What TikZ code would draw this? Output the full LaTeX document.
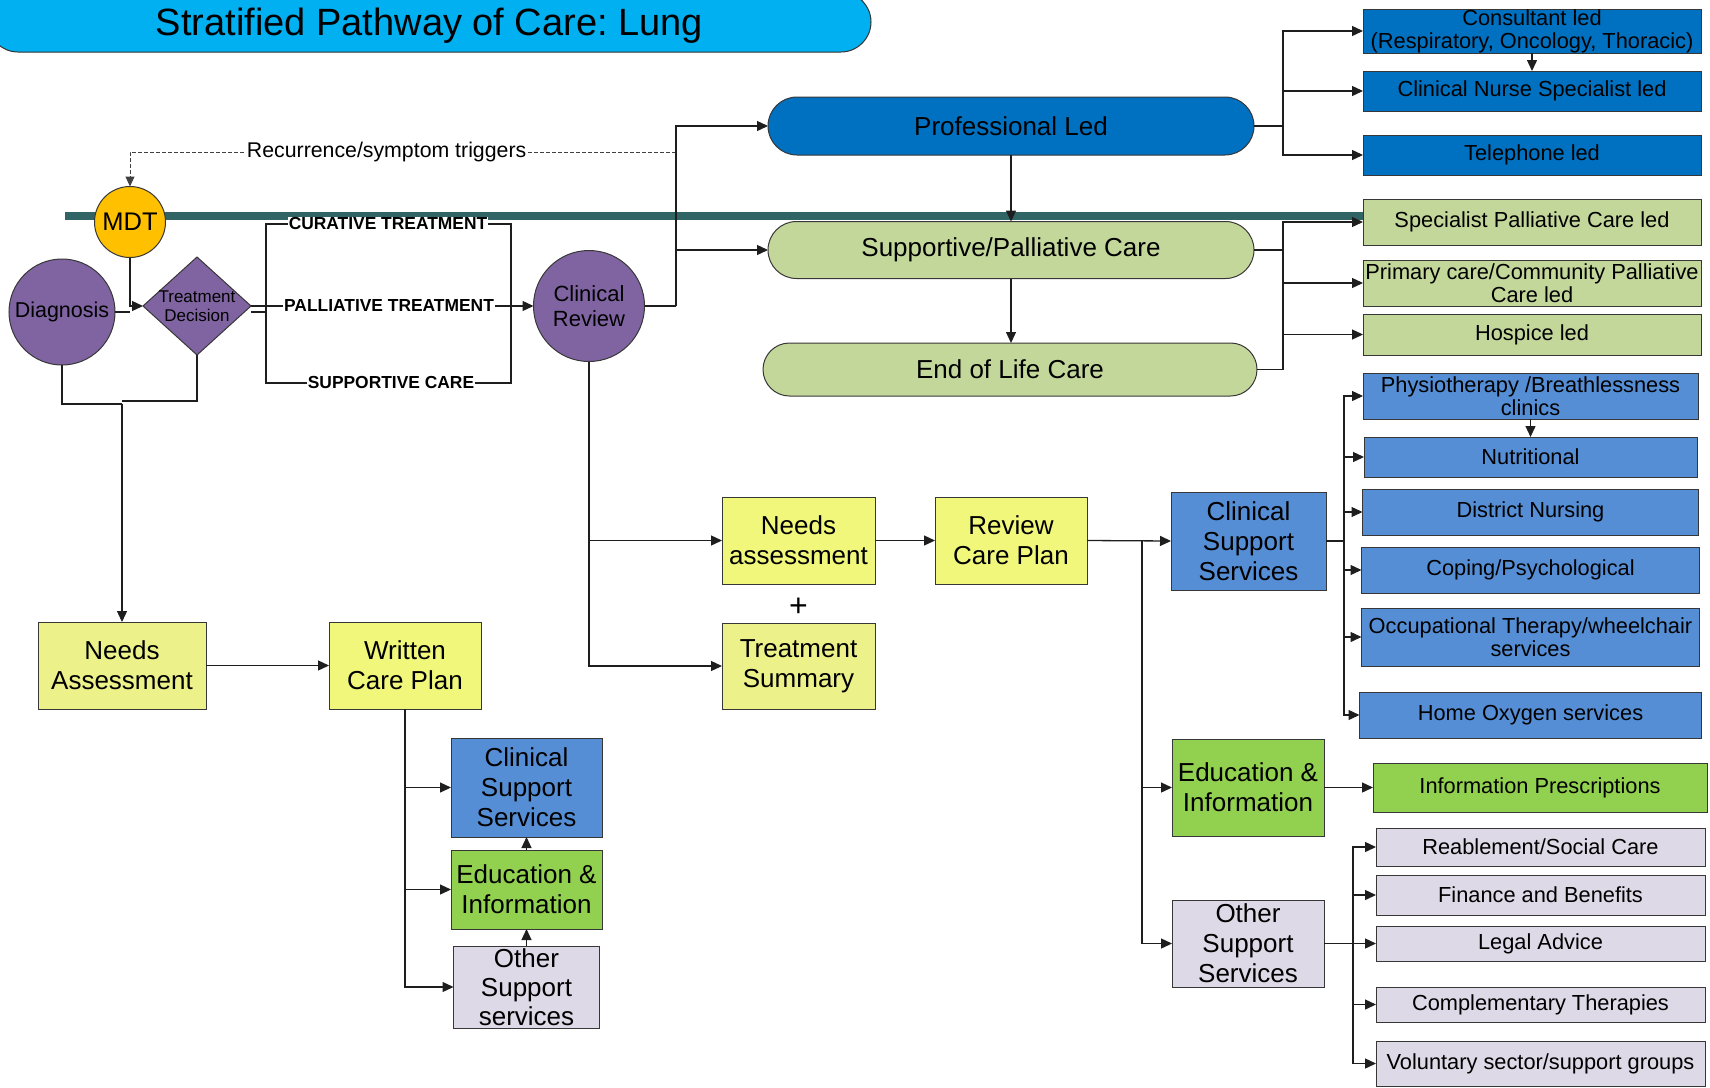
\documentclass[tikz,border=0pt]{standalone}
\usepackage{fontspec}
\setmainfont{Liberation Sans}
\usetikzlibrary{shapes.geometric, shapes.misc, positioning, arrows.meta, calc}
\definecolor{TitleCyan}{RGB}{0, 176, 240}
\definecolor{BarTeal}{RGB}{49, 101, 101}
\definecolor{MdtGold}{RGB}{255, 192, 0}
\definecolor{StagePurple}{RGB}{128, 100, 162}
\definecolor{ProBlue}{RGB}{0, 112, 192}
\definecolor{PallGreen}{RGB}{196, 215, 155}
\definecolor{PlanYellow}{RGB}{240, 247, 122}
\definecolor{SummaryYellow}{RGB}{236, 241, 138}
\definecolor{ClinBlue}{RGB}{85, 142, 213}
\definecolor{EduGreen}{RGB}{146, 208, 80}
\definecolor{OtherLilac}{RGB}{221, 217, 230}
\definecolor{EdgeColor}{RGB}{55, 55, 55}
\definecolor{LineColor}{RGB}{30, 30, 30}
\tikzset{
    base/.style={
        draw=EdgeColor,
        line width=1pt,
        align=center,
        inner sep=0pt,
        outer sep=0pt,
        text=black
    },
    bigbox/.style={base, rectangle, font=\fontsize{26}{30}\selectfont},
    smallbox/.style={base, rectangle, font=\fontsize{21.8}{23}\selectfont, minimum width=338pt},
    pill/.style={base, rounded rectangle, font=\fontsize{26}{30}\selectfont},
    bubble/.style={base, circle},
    titlebar/.style={base, rounded rectangle, fill=TitleCyan, draw=black!80,
        font=\fontsize{38}{40}\selectfont, text depth=0pt},
    optlabel/.style={fill=white, inner sep=1pt, font=\bfseries\fontsize{17.4}{19}\selectfont}
}

\begin{document}
\frenchspacing
\begin{tikzpicture}[x=1pt, y=-1pt]
    \useasboundingbox (0,0) rectangle (1710,1087);

    % ============================================================================
    % HEADER
    % ============================================================================

    \node[titlebar, minimum width=883pt, minimum height=60pt] (Title) at (429.5,22) {Stratified Pathway of Care: Lung};

    % divider between the two bands
    \draw[line width=8pt, BarTeal] (65,216) -- (1363,216);

    % ============================================================================
    % DIAGNOSIS AND DECISION
    % ============================================================================

    \node[bubble, fill=MdtGold, minimum size=71pt, font=\fontsize{25.5}{27}\selectfont] (MDT) at (130,222) {MDT};
    \node[bubble, fill=StagePurple, minimum size=106pt, font=\fontsize{21.5}{23}\selectfont] (Diagnosis) at (62,312) {Diagnosis};
    \node[base, diamond, fill=StagePurple, minimum width=108pt, minimum height=98pt,
        label={[align=center, font=\fontsize{17}{19.5}\selectfont]center:Treatment\\Decision}] (Decision) at (197,306) {};
    \node[bubble, fill=StagePurple, minimum size=111pt, font=\fontsize{22}{24.5}\selectfont] (Review) at (589,306) {Clinical\\Review};

    % Treatment options
    \node[optlabel] (OptCurative) at (388,224) {CURATIVE TREATMENT};
    \node[optlabel] (OptPalliative) at (389,306) {PALLIATIVE TREATMENT};
    \node[optlabel] (OptSupportive) at (391,383) {SUPPORTIVE CARE};

    % ============================================================================
    % FOLLOW-UP ROUTES
    % ============================================================================

    \node[pill, fill=ProBlue, minimum width=486pt, minimum height=58pt] (Professional) at (1011,126) {Professional Led};
    \node[pill, fill=PallGreen, minimum width=486pt, minimum height=57pt] (SupportCare) at (1011,250) {Supportive/Palliative Care};
    \node[pill, fill=PallGreen, minimum width=494pt, minimum height=53pt] (EndLife) at (1010,369.5) {End of Life Care};

    % Professional led options
    \node[smallbox, fill=ProBlue, minimum height=44pt] (Consultant) at (1532,31) {Consultant led\\(Respiratory, Oncology, Thoracic)};
    \node[smallbox, fill=ProBlue, minimum height=40pt, below=18pt of Consultant] (Nurse) {Clinical Nurse Specialist led};
    \node[smallbox, fill=ProBlue, minimum height=40pt, below=24pt of Nurse] (Phone) {Telephone led};

    % Palliative options
    \node[smallbox, fill=PallGreen, minimum height=46pt] (SpecPall) at (1532,222) {Specialist Palliative Care led};
    \node[smallbox, fill=PallGreen, minimum height=46pt, below=15pt of SpecPall] (Primary) {Primary care/Community Palliative\\Care led};
    \node[smallbox, fill=PallGreen, minimum height=41pt, below=8pt of Primary] (Hospice) {Hospice led};

    % ============================================================================
    % CARE PLANNING (RIGHT)
    % ============================================================================

    \node[bigbox, fill=PlanYellow, minimum width=153pt, minimum height=87pt] (NeedsRight) at (798.5,540.5) {Needs\\assessment};
    \node[bigbox, fill=SummaryYellow, minimum width=153pt, minimum height=86pt] (Summary) at (798.5,666) {Treatment\\Summary};
    \node[font=\fontsize{32}{32}\selectfont, inner sep=0pt] (Plus) at ($(NeedsRight.south)!0.6!(Summary.north)$) {+};
    \node[bigbox, fill=PlanYellow, minimum width=152pt, minimum height=87pt, right=60pt of NeedsRight] (ReviewPlan) {Review\\Care Plan};

    \node[bigbox, fill=ClinBlue, minimum width=155pt, minimum height=98pt] (ClinSupRight) at (1248.5,541) {Clinical\\Support\\Services};
    \node[bigbox, fill=EduGreen, minimum width=152pt, minimum height=97pt] (EduRight) at (1248,787.5) {Education \&\\Information};
    \node[bigbox, fill=OtherLilac, minimum width=152pt, minimum height=87pt] (OtherRight) at (1248,943.5) {Other\\Support\\Services};

    % Clinical support services
    \node[smallbox, fill=ClinBlue, minimum width=335pt, minimum height=46pt] (Physio) at (1530.5,396) {Physiotherapy /Breathlessness\\clinics};
    \node[smallbox, fill=ClinBlue, minimum width=333pt, minimum height=40pt, below=18pt of Physio] (Nutrition) {Nutritional};
    \node[smallbox, fill=ClinBlue, minimum width=336pt, minimum height=46pt, below=12pt of Nutrition] (District) {District Nursing};
    \node[smallbox, fill=ClinBlue, minimum height=46pt, below=12pt of District] (Coping) {Coping/Psychological};
    \node[smallbox, fill=ClinBlue, minimum height=58pt, below=15pt of Coping] (Occupational) {Occupational Therapy/wheelchair\\services};
    \node[smallbox, fill=ClinBlue, minimum width=342pt, minimum height=46pt, below=26pt of Occupational] (Oxygen) {Home Oxygen services};

    % Education
    \node[smallbox, fill=EduGreen, minimum width=334pt, minimum height=49pt] (InfoPresc) at (1540,787.5) {Information Prescriptions};

    % Other support
    \node[smallbox, fill=OtherLilac, minimum width=329pt, minimum height=38pt] (Reablement) at (1540.5,847) {Reablement/Social Care};
    \node[smallbox, fill=OtherLilac, minimum width=329pt, minimum height=40pt, below=9pt of Reablement] (Finance) {Finance and Benefits};
    \node[smallbox, fill=OtherLilac, minimum width=329pt, minimum height=35pt, below=11pt of Finance] (Legal) {Legal Advice};
    \node[smallbox, fill=OtherLilac, minimum width=329pt, minimum height=35pt, below=26pt of Legal] (Complementary) {Complementary Therapies};
    \node[smallbox, fill=OtherLilac, minimum width=329pt, minimum height=45pt, below=19pt of Complementary] (Voluntary) {Voluntary sector/support groups};

    % ============================================================================
    % CARE PLANNING (LEFT)
    % ============================================================================

    \node[bigbox, fill=SummaryYellow, minimum width=168pt, minimum height=87pt] (NeedsLeft) at (122,665.5) {Needs\\Assessment};
    \node[bigbox, fill=PlanYellow, minimum width=152pt, minimum height=87pt, right=123pt of NeedsLeft] (WrittenPlan) {Written\\Care Plan};
    \node[bigbox, fill=ClinBlue, minimum width=151pt, minimum height=99pt] (ClinSupLeft) at (526.5,787.5) {Clinical\\Support\\Services};
    \node[bigbox, fill=EduGreen, minimum width=151pt, minimum height=79pt, below=13pt of ClinSupLeft] (EduLeft) {Education \&\\Information};
    \node[bigbox, fill=OtherLilac, minimum width=146pt, minimum height=82pt, below=17pt of EduLeft, font=\fontsize{26}{29}\selectfont] (OtherLeft) {Other\\Support\\services};

    % ============================================================================
    % CONNECTIONS
    % ============================================================================

    \tikzset{
        link/.style={draw=LineColor, line width=1.3pt},
        arr/.style={link, -{Triangle[length=11pt, width=10pt]}},
        trigger/.style={draw=black!75, line width=1pt, dash pattern=on 4pt off 2pt,
            -{Triangle[length=10pt, width=9pt]}}
    }

    \coordinate (revFork) at (676,306);
    \coordinate (triggerStart) at (676,152);
    \coordinate (proFork) at (1283,126);
    \coordinate (pallFork) at (1283,250);
    \coordinate (splitL) at (266,312);
    \coordinate (splitR) at (511,306);
    \coordinate (diagJoin) at (122,404);
    \coordinate (planFork) at (1142,540.5);
    \coordinate (clinFork) at (1344,541);
    \coordinate (otherFork) at (1353,943.5);

    % MDT / Diagnosis into the decision
    \draw[link] (Diagnosis.east) -- (Diagnosis.east -| MDT.south);
    \draw[arr] (MDT.south) |- (Decision.west);

    % Decision to review, three ways
    \draw[link] ([yshift=-6pt]Decision.east) -- (splitL);
    \draw[link] (splitL) |- (OptCurative.west);
    \draw[link] (splitL) |- (OptSupportive.west);
    \draw[link] (Decision.east) -- (OptPalliative.west);
    \draw[link] (OptCurative.east) -| (splitR);
    \draw[link] (OptSupportive.east) -| (splitR);
    \draw[arr] (OptPalliative.east) -- (Review.west);

    % Recurrence loop back to MDT
    \draw[trigger] (triggerStart) -- node[pos=0.53, fill=white, inner sep=1pt, font=\fontsize{21.3}{23}\selectfont] (Recurrence) {Recurrence/symptom triggers} (triggerStart -| MDT.north) -- (MDT.north);

    % Review to follow-up routes
    \draw[link] (Review.east) -- (revFork);
    \draw[arr] (revFork) |- (Professional.west);
    \draw[arr] (revFork) |- (SupportCare.west);
    \draw[arr] (Professional.south) -- (SupportCare.north);
    \draw[arr] (SupportCare.south) -- (SupportCare.south |- EndLife.north);

    \draw[link] (Professional.east) -- (proFork);
    \draw[arr] (proFork) |- (Consultant.west);
    \draw[arr] (proFork) |- (Nurse.west);
    \draw[arr] (proFork) |- (Phone.west);
    \draw[arr] (Consultant.south) -- (Nurse.north);

    \draw[link] (SupportCare.east) -- (pallFork);
    \draw[link] (EndLife.east) -| (pallFork);
    \draw[arr] (pallFork) |- (SpecPall.west);
    \draw[arr] (pallFork) |- (Primary.west);
    \draw[arr] (pallFork) |- (Hospice.west);

    % Review to care planning (right)
    \draw[arr] (Review.south) |- (NeedsRight.west);
    \draw[arr] (Review.south) |- (Summary.west);
    \draw[arr] (NeedsRight.east) -- (ReviewPlan.west);
    \draw[arr] (ReviewPlan.east) -- (ClinSupRight.west);
    \draw[arr] (planFork) |- (EduRight.west);
    \draw[arr] (planFork) |- (OtherRight.west);

    \draw[link] (ClinSupRight.east) -- (clinFork);
    \foreach \target in {Physio, Nutrition, District, Coping, Occupational, Oxygen}
        \draw[arr] (clinFork) |- (\target.west);
    \draw[arr] (Physio.south) -- (Physio.south |- Nutrition.north);

    \draw[arr] (EduRight.east) -- (InfoPresc.west);

    \draw[link] (OtherRight.east) -- (otherFork);
    \foreach \target in {Reablement, Finance, Legal, Complementary, Voluntary}
        \draw[arr] (otherFork) |- (\target.west);

    % Diagnosis / decision to care planning (left)
    \draw[link] (Diagnosis.south) |- (diagJoin);
    \draw[link] (Decision.south) |- ([yshift=3pt]diagJoin);
    \draw[arr] (diagJoin) -- (NeedsLeft.north);
    \draw[arr] (NeedsLeft.east) -- (WrittenPlan.west);
    \draw[arr] (WrittenPlan.south) |- (ClinSupLeft.west);
    \draw[arr] (WrittenPlan.south) |- (EduLeft.west);
    \draw[arr] (WrittenPlan.south) |- (OtherLeft.west);
    \draw[arr] (EduLeft.north) -- (EduLeft.north |- ClinSupLeft.south);
    \draw[arr] (OtherLeft.north) -- (OtherLeft.north |- EduLeft.south);

\end{tikzpicture}
\end{document}
